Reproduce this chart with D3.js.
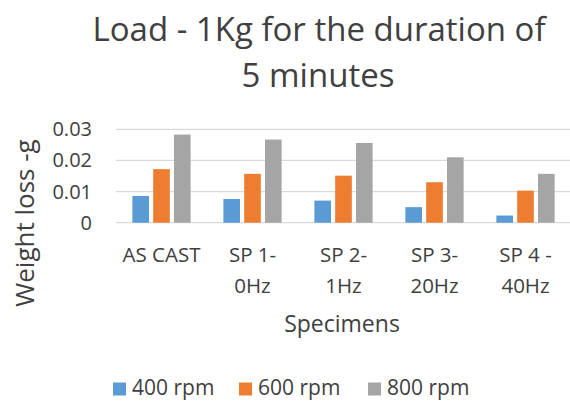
<!DOCTYPE html>
<html><head><meta charset="utf-8">
<script src="https://cdn.jsdelivr.net/npm/d3@7"></script>
<style>body{margin:0;background:#fff}svg{display:block}text{font-family:"Open Sans",Lato,sans-serif;fill:#404040}</style>
</head><body><svg id="c" width="570" height="402"></svg>
<script>
const categories = [["AS CAST"], ["SP 1-", "0Hz"], ["SP 2-", "1Hz"], ["SP 3-", "20Hz"], ["SP 4 -", "40Hz"]];
const seriesNames = ["400 rpm", "600 rpm", "800 rpm"];
const rpm400 = [0.0086, 0.0076, 0.0071, 0.0050, 0.0023];
const rpm600 = [0.0172, 0.0157, 0.0151, 0.0130, 0.0103];
const rpm800 = [0.0283, 0.0267, 0.0256, 0.0210, 0.0157];
const yTicks = [0, 0.01, 0.02, 0.03];
const colors = ["#5B9BD5", "#ED7D31", "#A5A5A5"];
const series = [rpm400, rpm600, rpm800];

const svg = d3.select("#c");
const catIdx = categories.map((d, i) => i);
const x0 = d3.scaleBand().domain(catIdx).range([116, 571]).paddingInner(0.36).paddingOuter(0.18);
const x1 = d3.scaleBand().domain(d3.range(3)).range([0, x0.bandwidth()]).paddingInner(0.2);
const y = d3.scaleLinear().domain([0, 0.03]).range([222.7, 129.3]);

// gridlines
svg.append("g").selectAll("line").data(yTicks).join("line")
  .attr("x1", 116).attr("x2", 571)
  .attr("y1", d => y(d)).attr("y2", d => y(d))
  .attr("stroke", "#d9d9d9").attr("stroke-width", 1.3);

// y tick labels
svg.append("g").selectAll("text").data(yTicks).join("text")
  .attr("x", 92).attr("y", d => y(d)).attr("dy", "0.35em")
  .attr("text-anchor", "end").attr("font-size", 20)
  .text(d => d === 0 ? "0" : d3.format(".2f")(d));

// bars
series.forEach((vals, s) => {
  svg.append("g").selectAll("rect").data(vals).join("rect")
    .attr("x", (d, i) => x0(i) + x1(s))
    .attr("width", x1.bandwidth())
    .attr("y", d => y(d))
    .attr("height", d => y(0) - y(d))
    .attr("fill", colors[s]);
});

// x labels
const xl = svg.append("g");
categories.forEach((lines, i) => {
  lines.forEach((t, j) => {
    xl.append("text").attr("x", x0(i) + x0.bandwidth() / 2).attr("y", 262 + j * 31)
      .attr("text-anchor", "middle").attr("font-size", 20.5).text(t);
  });
});

// axis titles
svg.append("text").attr("x", 342).attr("y", 332).attr("text-anchor", "middle")
  .attr("font-size", 23).text("Specimens");
svg.append("text").attr("transform", "translate(34,223) rotate(-90)")
  .attr("text-anchor", "middle").attr("font-size", 26).text("Weight loss -g");

// title
svg.append("text").attr("x", 319).attr("y", 41).attr("text-anchor", "middle")
  .attr("font-size", 33).text("Load - 1Kg for the duration of");
svg.append("text").attr("x", 318).attr("y", 87).attr("text-anchor", "middle")
  .attr("font-size", 33).text("5 minutes");

// legend
const legX = [113, 239, 368];
seriesNames.forEach((n, s) => {
  svg.append("rect").attr("x", legX[s]).attr("y", 382.5).attr("width", 13).attr("height", 13).attr("fill", colors[s]);
  svg.append("text").attr("x", legX[s] + 19).attr("y", 395).attr("font-size", 21).text(n);
});
</script></body></html>
